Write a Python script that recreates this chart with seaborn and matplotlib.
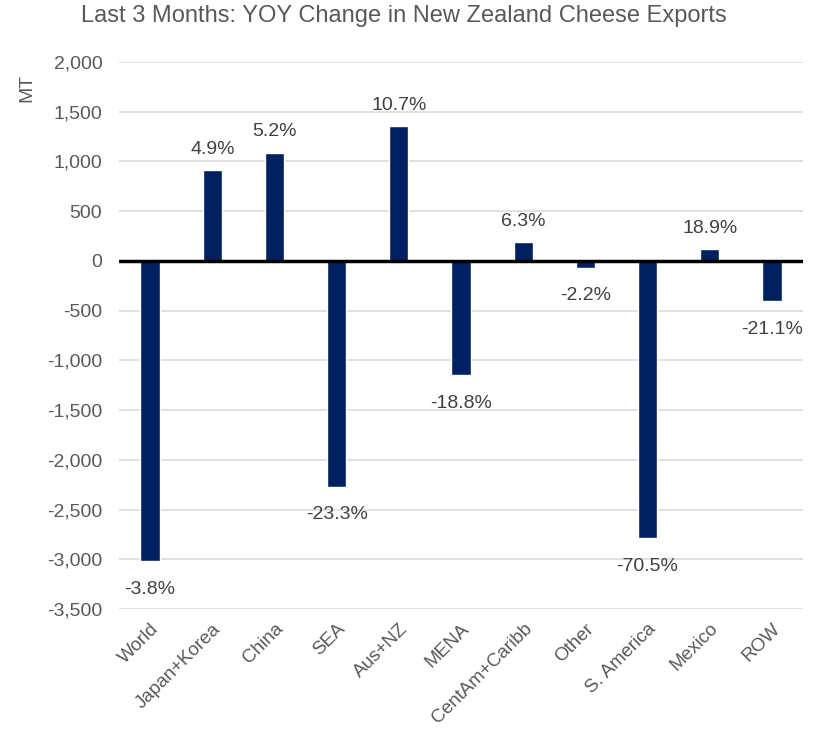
import matplotlib
matplotlib.use("Agg")
import matplotlib.pyplot as plt
import seaborn as sns
import pandas as pd
from matplotlib.ticker import FuncFormatter, MultipleLocator

regions = ["World", "Japan+Korea", "China", "SEA", "Aus+NZ", "MENA",
           "CentAm+Caribb", "Other", "S. America", "Mexico", "ROW"]
change_mt = [-3020, 910, 1090, -2270, 1355, -1150, 190, -68, -2790, 118, -405]
change_pct = [-3.8, 4.9, 5.2, -23.3, 10.7, -18.8, 6.3, -2.2, -70.5, 18.9, -21.1]

df = pd.DataFrame({"region": regions, "mt": change_mt, "pct": change_pct})

sns.set_theme(style="white")
plt.rcParams["font.family"] = ["Liberation Sans", "DejaVu Sans"]

text_gray = "#595959"
label_gray = "#404040"
navy = "#002060"

fig = plt.figure(figsize=(8.15, 7.36), dpi=100)
ax = fig.add_axes([119 / 815, 1 - 609 / 736, (803 - 119) / 815, (609 - 62) / 736])

sns.barplot(data=df, x="region", y="mt", color=navy, saturation=1,
            width=0.31, ax=ax)

ax.set_ylim(-3500, 2000)
ax.set_xlim(-0.5, len(regions) - 0.5)
ax.yaxis.set_major_locator(MultipleLocator(500))
ax.yaxis.set_major_formatter(FuncFormatter(lambda v, p: f"{v:,.0f}"))
ax.grid(axis="y", color="#d9d9d9", linewidth=1.1)
ax.set_axisbelow(True)
ax.axhline(0, color="black", linewidth=2.5, zorder=3)
for s in ax.spines.values():
    s.set_visible(False)

ax.set_xlabel("")
ax.set_ylabel("")
ax.tick_params(axis="y", length=0, pad=12, labelsize=14, labelcolor=text_gray)
ax.tick_params(axis="x", length=0, pad=8, labelsize=13.6, labelcolor=text_gray)
plt.setp(ax.get_xticklabels(), rotation=45, ha="right", va="top",
         rotation_mode="anchor")

for i, (v, p) in enumerate(zip(change_mt, change_pct)):
    off = 9 if v >= 0 else -14
    ax.annotate(f"{p:.1f}%", (i, v), xytext=(0, off), textcoords="offset points",
                ha="center", va="bottom" if v >= 0 else "top",
                fontsize=14, color=label_gray)

fig.text(27 / 815, 1 - 88 / 736, "MT", rotation=90, ha="center", va="center",
         fontsize=14, color=text_gray)
fig.text(404 / 815, 1 - 16 / 736, "Last 3 Months: YOY Change in New Zealand Cheese Exports",
         ha="center", va="center", fontsize=17, color=text_gray)

fig.savefig("out.png", dpi=100)
